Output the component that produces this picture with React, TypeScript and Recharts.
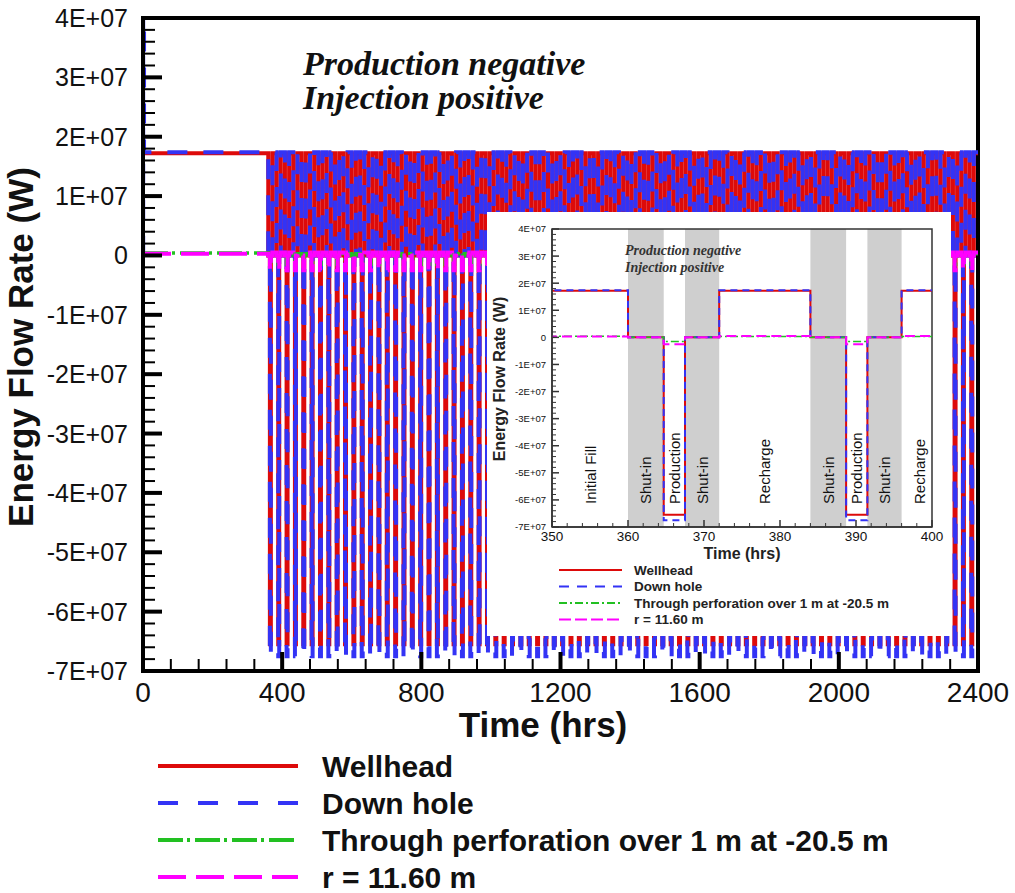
import React from "react";
import { LineChart, Line, XAxis, YAxis, ReferenceArea, ReferenceLine } from "recharts";

const FONT = "'Liberation Sans', Arial, sans-serif";
const SERIF = "'Liberation Serif', 'Times New Roman', serif";

// operating schedule (hrs into each 24 h cycle after the initial fill)
const initialFillEnd = 360;
const cycleHours = 24;
const cycleCount = 85;
const phaseNames = ["Shut-in", "Production", "Shut-in", "Recharge"];
const phaseStarts = [0, 4.7, 7.5, 12];

// energy flow rate (W) during each phase
const wellheadPhase = [0, -6.55e7, 0, 1.72e7];
const downholePhase = [0, -6.75e7, 0, 1.74e7];
const perforationPhase = [0, -0.15e7, 0, 0.03e7];
const radiusPhase = [0, -0.25e7, 0, 0.05e7];

// initial fill (time, W)
const wellheadFill = [[0, 1.72e7]];
const downholeFill = [[0, 0], [0.5, 4e7], [3, 1.74e7]];
const perforationFill = [[0, 0.04e7]];
const radiusFill = [[0, 0.03e7]];

// axes
const yMajorTicks = [-7e7, -6e7, -5e7, -4e7, -3e7, -2e7, -1e7, 0, 1e7, 2e7, 3e7, 4e7];
const yTickLabels = ["-7E+07", "-6E+07", "-5E+07", "-4E+07", "-3E+07", "-2E+07", "-1E+07", "0", "1E+07", "2E+07", "3E+07", "4E+07"];
const xMajorTicks = [0, 400, 800, 1200, 1600, 2000, 2400];
const insetXMajorTicks = [350, 360, 370, 380, 390, 400];

const buildSeries = (fill: number[][], phase: number[]) => {
  const pts = fill.map(([t, v]) => ({ t, v }));
  for (let c = 0; c < cycleCount; c++) {
    phaseStarts.forEach((s, i) => pts.push({ t: initialFillEnd + c * cycleHours + s, v: phase[i] }));
  }
  pts.push({ t: 2400, v: pts[pts.length - 1].v });
  return pts;
};

const series = [
  { name: "Wellhead", color: "#dd0a0a", data: buildSeries(wellheadFill, wellheadPhase),
    main: { w: 4, dash: undefined }, inset: { w: 2, dash: undefined },
    legend: undefined, insetLegend: undefined },
  { name: "Down hole", color: "#3333f5", data: buildSeries(downholeFill, downholePhase),
    main: { w: 4, dash: "20 16" }, inset: { w: 2, dash: "7 5" },
    legend: "20 20", insetLegend: "10 8" },
  { name: "Through perforation over 1 m at -20.5 m", color: "#22c022", data: buildSeries(perforationFill, perforationPhase),
    main: { w: 3.5, dash: "25 4 3 5" }, inset: { w: 1.5, dash: "8 3 2 3" },
    legend: "25 4 3 5", insetLegend: "8 3 2 3" },
  { name: "r = 11.60 m", color: "#ff00ff", data: buildSeries(radiusFill, radiusPhase),
    main: { w: 4, dash: "28 10" }, inset: { w: 2, dash: "10 5" },
    legend: "28 10", insetLegend: "12 4" },
];

const withMinor = (majors: number[], parts: number) => {
  const out: number[] = [];
  for (let i = 0; i < majors.length - 1; i++) {
    const step = (majors[i + 1] - majors[i]) / parts;
    for (let j = 0; j < parts; j++) out.push(majors[i] + j * step);
  }
  out.push(majors[majors.length - 1]);
  return out;
};

const majorIndex = (majors: number[], v: number) => majors.findIndex((m) => Math.abs(m - v) < 1);

// shut-in bands and phase labels for the two cycles shown in the inset
const insetCycles = [0, 1];
const shutInBands = insetCycles.flatMap((c) => {
  const t0 = initialFillEnd + c * cycleHours;
  return [[t0 + phaseStarts[0], t0 + phaseStarts[1]], [t0 + phaseStarts[2], t0 + phaseStarts[3]]];
});
const phaseLabels = [{ x: 355, text: "Initial Fill" }].concat(
  insetCycles.flatMap((c) => {
    const t0 = initialFillEnd + c * cycleHours;
    return phaseNames.map((name, i) => {
      const end = i < phaseStarts.length - 1 ? phaseStarts[i + 1] : cycleHours;
      let mid = t0 + (phaseStarts[i] + end) / 2;
      if (name === "Recharge" && c === 1) mid = 398.3;
      return { x: mid, text: name };
    });
  })
);

const renderYTick = (cfg: any) => (props: any) => {
  const { y, payload } = props;
  const idx = majorIndex(yMajorTicks, payload.value);
  const major = idx >= 0;
  return (
    <g>
      <line x1={cfg.axis} x2={cfg.axis + (major ? cfg.major : cfg.minor)} y1={y} y2={y}
        stroke={cfg.color} strokeWidth={major ? cfg.wMajor : cfg.wMinor} />
      {major && (
        <text x={cfg.axis - cfg.gap} y={y} dy="0.36em" textAnchor="end" fontSize={cfg.fontSize}
          fontFamily={FONT} fill="#111">{yTickLabels[idx]}</text>
      )}
    </g>
  );
};

const renderXTick = (cfg: any, majors: number[]) => (props: any) => {
  const { x, payload } = props;
  const idx = majorIndex(majors, payload.value);
  const major = idx >= 0;
  const y = cfg.axis;
  return (
    <g>
      <line x1={x} x2={x} y1={y} y2={y - (major ? cfg.major : cfg.minor)}
        stroke={cfg.color} strokeWidth={major ? cfg.wMajor : cfg.wMinor} />
      {major && (
        <text x={x} y={y + cfg.dy} textAnchor="middle" fontSize={cfg.fontSize}
          fontFamily={FONT} fill="#111">{majors[idx]}</text>
      )}
    </g>
  );
};

const PhaseLabel = (props: any) => {
  const { viewBox, text } = props;
  if (!viewBox) return null;
  const x = viewBox.x + 5.5;
  const y = viewBox.y + viewBox.height - 23;
  return (
    <text x={x} y={y} transform={`rotate(-90, ${x}, ${y})`} textAnchor="start"
      fontSize={15} fontFamily={FONT} fill="#111">{text}</text>
  );
};

// axis positions inside each chart's svg
const mainYCfg = { axis: 143, major: 19, minor: 12, wMajor: 4, wMinor: 2, color: "#000", gap: 15, fontSize: 25 };
const mainXCfg = { axis: 671, major: 19, minor: 12, wMajor: 4, wMinor: 2, color: "#000", dy: 31, fontSize: 28 };
const insetYCfg = { axis: 65, major: 7, minor: 4, wMajor: 1.5, wMinor: 1, color: "#333", gap: 6, fontSize: 9.5 };
const insetXCfg = { axis: 315, major: 7, minor: 4, wMajor: 1.5, wMinor: 1, color: "#333", dy: 13.5, fontSize: 13.5 };

export default function App() {
  return (
    <div style={{ position: "absolute", left: 0, top: 0, width: 1015, height: 893, background: "#fff" }}>
      <div style={{ position: "absolute", left: 0, top: 0 }}>
        <LineChart width={1015} height={893} margin={{ top: 18, right: 37, bottom: 0, left: 0 }}>
          <XAxis type="number" dataKey="t" domain={[0, 2400]} ticks={withMinor(xMajorTicks, 5)} interval={0}
            height={222} tickLine={false} axisLine={{ stroke: "#000", strokeWidth: 4 }}
            tick={renderXTick(mainXCfg, xMajorTicks)} />
          <YAxis type="number" domain={[-7e7, 4e7]} ticks={withMinor(yMajorTicks, 5)} interval={0}
            width={143} tickLine={false} axisLine={{ stroke: "#000", strokeWidth: 4 }}
            tick={renderYTick(mainYCfg)} />
          <ReferenceArea x1={0} x2={2400} y1={-7e7} y2={4e7} fill="none" stroke="#000" strokeWidth={4} />
          {series.map((s) => (
            <Line key={s.name} data={s.data} dataKey="v" name={s.name} type="stepAfter"
              stroke={s.color} strokeWidth={s.main.w} strokeDasharray={s.main.dash}
              dot={false} activeDot={false} isAnimationActive={false} />
          ))}
        </LineChart>
      </div>

      <div style={{ position: "absolute", left: 487, top: 212, width: 464, height: 424, background: "#fff" }}>
        <LineChart width={464} height={424} margin={{ top: 17, right: 19, bottom: 0, left: 0 }}>
          {shutInBands.map(([a, b], i) => (
            <ReferenceArea key={i} x1={a} x2={b} y1={-7e7} y2={4e7} fill="#cfcfcf" fillOpacity={1} stroke="none" />
          ))}
          <XAxis type="number" dataKey="t" domain={[350, 400]} allowDataOverflow ticks={withMinor(insetXMajorTicks, 5)}
            interval={0} height={109} tickLine={false} axisLine={{ stroke: "#333", strokeWidth: 1.5 }}
            tick={renderXTick(insetXCfg, insetXMajorTicks)} />
          <YAxis type="number" domain={[-7e7, 4e7]} ticks={withMinor(yMajorTicks, 5)} interval={0}
            width={65} tickLine={false} axisLine={{ stroke: "#333", strokeWidth: 1.5 }}
            tick={renderYTick(insetYCfg)} />
          {series.map((s) => (
            <Line key={s.name} data={s.data} dataKey="v" name={s.name} type="stepAfter"
              stroke={s.color} strokeWidth={s.inset.w} strokeDasharray={s.inset.dash}
              dot={false} activeDot={false} isAnimationActive={false} />
          ))}
          {phaseLabels.map((p, i) => (
            <ReferenceLine key={i} x={p.x} stroke="none" label={<PhaseLabel text={p.text} />} />
          ))}
          <ReferenceArea x1={350} x2={400} y1={-7e7} y2={4e7} fill="none" stroke="#333" strokeWidth={1.5} />
        </LineChart>
      </div>

      <svg style={{ position: "absolute", left: 0, top: 0, pointerEvents: "none" }} width={1015} height={893}>
        {/* main chart titles */}
        <text x={33} y={347} transform="rotate(-90, 33, 347)" textAnchor="middle" fontSize={35}
          fontWeight="bold" fontFamily={FONT} fill="#111">Energy Flow Rate (W)</text>
        <text x={543} y={737} textAnchor="middle" fontSize={35} fontWeight="bold" fontFamily={FONT}
          fill="#111">Time (hrs)</text>
        <text x={303} y={75} fontSize={34} fontWeight="bold" fontStyle="italic" fontFamily={SERIF}
          fill="#111">Production negative</text>
        <text x={303} y={109} fontSize={34} fontWeight="bold" fontStyle="italic" fontFamily={SERIF}
          fill="#111">Injection positive</text>

        {/* main legend */}
        {series.map((s, i) => (
          <g key={s.name}>
            <line x1={158} x2={298} y1={766 + i * 37} y2={766 + i * 37} stroke={s.color}
              strokeWidth={4} strokeDasharray={s.legend} />
            <text x={322} y={766 + i * 37} dy="0.36em" fontSize={30} fontWeight="bold" fontFamily={FONT}
              fill="#111">{s.name}</text>
          </g>
        ))}

        {/* inset titles */}
        <text x={505} y={379} transform="rotate(-90, 505, 379)" textAnchor="middle" fontSize={16}
          fontWeight="bold" fontFamily={FONT} fill="#222">Energy Flow Rate (W)</text>
        <text x={742} y={559} textAnchor="middle" fontSize={16} fontWeight="bold" fontFamily={FONT}
          fill="#222">Time (hrs)</text>
        <text x={625} y={255} fontSize={14} fontWeight="bold" fontStyle="italic" fontFamily={SERIF}
          fill="#333">Production negative</text>
        <text x={625} y={272} fontSize={14} fontWeight="bold" fontStyle="italic" fontFamily={SERIF}
          fill="#333">Injection positive</text>

        {/* inset legend */}
        {series.map((s, i) => (
          <g key={s.name + "-inset"}>
            <line x1={559} x2={622} y1={570 + i * 16.5} y2={570 + i * 16.5} stroke={s.color}
              strokeWidth={2} strokeDasharray={s.insetLegend} />
            <text x={634} y={570 + i * 16.5} dy="0.36em" fontSize={13.5} fontWeight="bold" fontFamily={FONT}
              fill="#222">{s.name}</text>
          </g>
        ))}
      </svg>
    </div>
  );
}
